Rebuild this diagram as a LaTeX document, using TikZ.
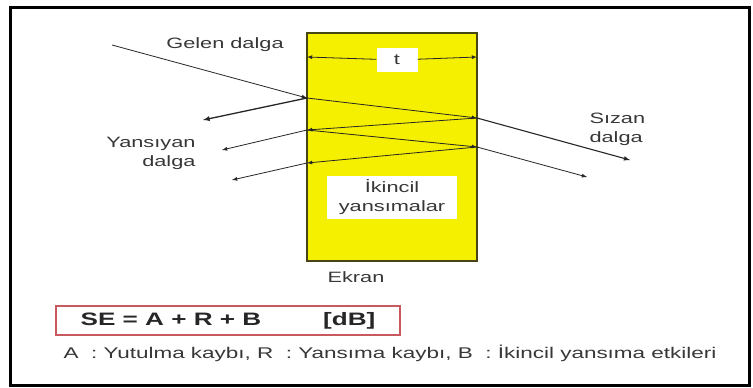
\documentclass[tikz,border=0pt]{standalone}
\usepackage{fontspec}
\setmainfont[FakeStretch=1.45]{Liberation Sans}
\usetikzlibrary{arrows, positioning}
\definecolor{screenyellow}{RGB}{245,240,0}
\definecolor{screenedge}{RGB}{70,70,20}
\definecolor{boxred}{RGB}{200,90,95}
\definecolor{inkgray}{RGB}{55,55,55}
\tikzstyle{screen} = [rectangle, minimum width=170pt, minimum height=228pt, draw=screenedge, line width=1.5pt, fill=screenyellow]
\tikzstyle{whitebox} = [rectangle, fill=white, text=inkgray, align=center]
\tikzstyle{wavetext} = [font=\fontsize{15}{19}\selectfont, text=inkgray]
\tikzstyle{wave} = [->, >=latex, draw=black!85, line width=0.8pt]

\begin{document}
\begin{tikzpicture}[x=1pt, y=-1pt]
\useasboundingbox (0,0) rectangle (753,388);
\draw [line width=3pt] (10,7) rectangle (749,385);

% screen and its labels
\node (screen) [screen] at (392,147) {};
\node (tbox) [whitebox, minimum width=41pt, minimum height=24pt, font=\fontsize{15}{19}\selectfont] at (397,60) {t};
\coordinate (tl) at (307,57);
\coordinate (tr) at (477,57);
\draw [wave] (tbox) -- (tl);
\draw [wave] (tbox) -- (tr);
\node (second) [whitebox, minimum width=130pt, minimum height=43pt, font=\fontsize{15}{19}\selectfont] at (392,197) {İkincil\\yansımalar};
\node (ekran) [wavetext] at (356,277) {Ekran};

% wave paths
\coordinate (start) at (112,45);
\coordinate (p1) at (307,98);
\coordinate (q1) at (477,118);
\coordinate (p2) at (307,130);
\coordinate (q2) at (477,147);
\coordinate (p3) at (307,163);
\coordinate (r1) at (203,120);
\coordinate (r2) at (222,150);
\coordinate (r3) at (232,180);
\coordinate (s1) at (630,160);
\coordinate (s2) at (587,177);

\draw [wave] (start) -- (p1);
\draw [wave, line width=1.3pt] (p1) -- (r1);
\draw [wave] (p1) -- (q1);
\draw [wave, line width=1.1pt] (q1) -- (s1);
\draw [wave] (q1) -- (p2);
\draw [wave] (p2) -- (r2);
\draw [wave] (p2) -- (q2);
\draw [wave] (q2) -- (s2);
\draw [wave] (q2) -- (p3);
\draw [wave] (p3) -- (r3);

\node (gelen) [wavetext] at (225,45) {Gelen dalga};
\node (yansiyan) [wavetext, align=right, anchor=east] at (199,153) {Yansıyan\\dalga};
\node (sizan) [wavetext, align=left, anchor=west] at (586,129) {Sızan\\dalga};

% formula and legend
\node (se) [rectangle, draw=boxred, line width=1.5pt, minimum width=344pt, minimum height=29pt, font=\bfseries\fontsize{18}{20}\selectfont, text=black!85] at (228,320.5) {SE = A + R + B\hspace{62pt}[dB]};
\node (legend) [font=\fontsize{15.5}{17}\selectfont, text=inkgray] at (390,353) {A\ \ : Yutulma kaybı, R\ \ : Yansıma kaybı, B\ \ : İkincil yansıma etkileri};
\end{tikzpicture}
\end{document}
